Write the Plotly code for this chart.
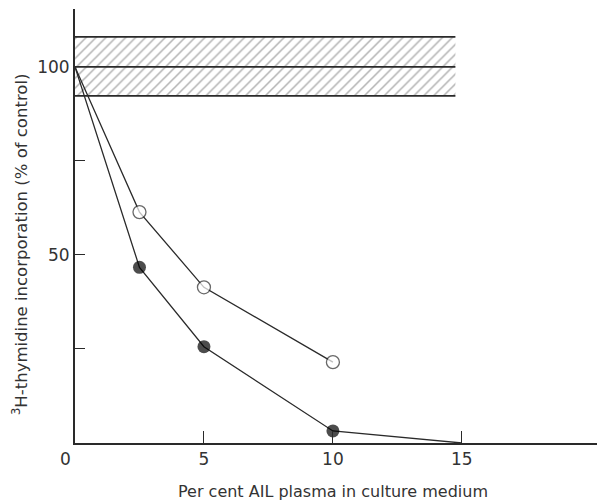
import plotly.graph_objects as go

# Data
conc_open = [0, 2.5, 5, 10]
incorp_open = [100, 61.4, 41.4, 21.5]
conc_filled = [0, 2.5, 5, 10, 15]
incorp_filled = [100, 46.7, 25.6, 3.2, 0]
band_low, band_mid, band_high = 92.3, 100, 108
band_x_end = 14.75
x_ticks = [0, 5, 10, 15]
x_ticktext = ["", "5", "10", "15"]
y_ticks = [25, 50, 75, 100]
y_ticktext = ["", "50", "", "100"]

ink = "#2a2a2a"
font = "DejaVu Sans"

# page body has an 8px margin -> compensate
OFF = 8
L, T, PW, PH = 75 - OFF, 9 - OFF, 530, 434

fig = go.Figure()

# hatched control band
fig.add_trace(go.Scatter(
    x=[0, band_x_end, band_x_end, 0, 0],
    y=[band_low, band_low, band_high, band_high, band_low],
    mode="lines", line=dict(width=0), fill="toself", fillcolor="rgba(0,0,0,0)",
    fillpattern=dict(shape="/", size=7, solidity=0.22, fgcolor="#666", bgcolor="white"),
    hoverinfo="skip", showlegend=False))
for yv in [band_low, band_mid, band_high]:
    fig.add_trace(go.Scatter(x=[0, band_x_end], y=[yv, yv], mode="lines",
                             line=dict(color=ink, width=1.8), showlegend=False, hoverinfo="skip"))

fig.add_trace(go.Scatter(
    x=conc_filled, y=incorp_filled, mode="lines+markers",
    line=dict(color=ink, width=1.3),
    marker=dict(size=[0, 13, 13, 13, 0], color="black", line=dict(color="black", width=0)),
    showlegend=False))
fig.add_trace(go.Scatter(
    x=conc_open, y=incorp_open, mode="lines+markers",
    line=dict(color=ink, width=1.3),
    marker=dict(size=[0, 13, 13, 13], color="white", line=dict(color=ink, width=1.3)),
    showlegend=False))

fig.update_layout(
    width=605, height=501,
    margin=dict(l=L, r=605 - L - PW, t=T, b=501 - T - PH),
    paper_bgcolor="white", plot_bgcolor="white",
    font=dict(family=font, color="#333", size=16),
    xaxis=dict(range=[0, 20.55], tickvals=x_ticks, ticktext=x_ticktext,
               ticks="inside", ticklen=12, tickwidth=1.3, tickcolor=ink,
               showline=True, linecolor=ink, linewidth=2, showgrid=False, zeroline=False,
               tickfont=dict(size=17)),
    yaxis=dict(range=[0, 115.4], tickvals=y_ticks, ticktext=y_ticktext,
               ticks="inside", ticklen=10, tickwidth=1.3, tickcolor=ink,
               showline=True, linecolor=ink, linewidth=2, showgrid=False, zeroline=False,
               tickfont=dict(size=17)),
    annotations=[
        dict(text="0", x=0, y=0, xref="x", yref="y", showarrow=False,
             xshift=-10, yshift=-16, font=dict(size=17)),
        dict(text="Per cent AIL plasma in culture medium",
             xref="paper", yref="paper", showarrow=False, font=dict(size=16),
             x=(333 - 75) / PW, y=-(491 - 443) / PH, xanchor="center", yanchor="middle"),
        dict(text="<sup>3</sup>H-thymidine incorporation (% of control)",
             textangle=-90, showarrow=False, font=dict(size=16.5),
             xref="paper", yref="paper",
             x=-(75 - 20) / PW, y=(443 - 245) / PH, xanchor="center", yanchor="middle"),
    ],
)

fig.write_html("out.html")
